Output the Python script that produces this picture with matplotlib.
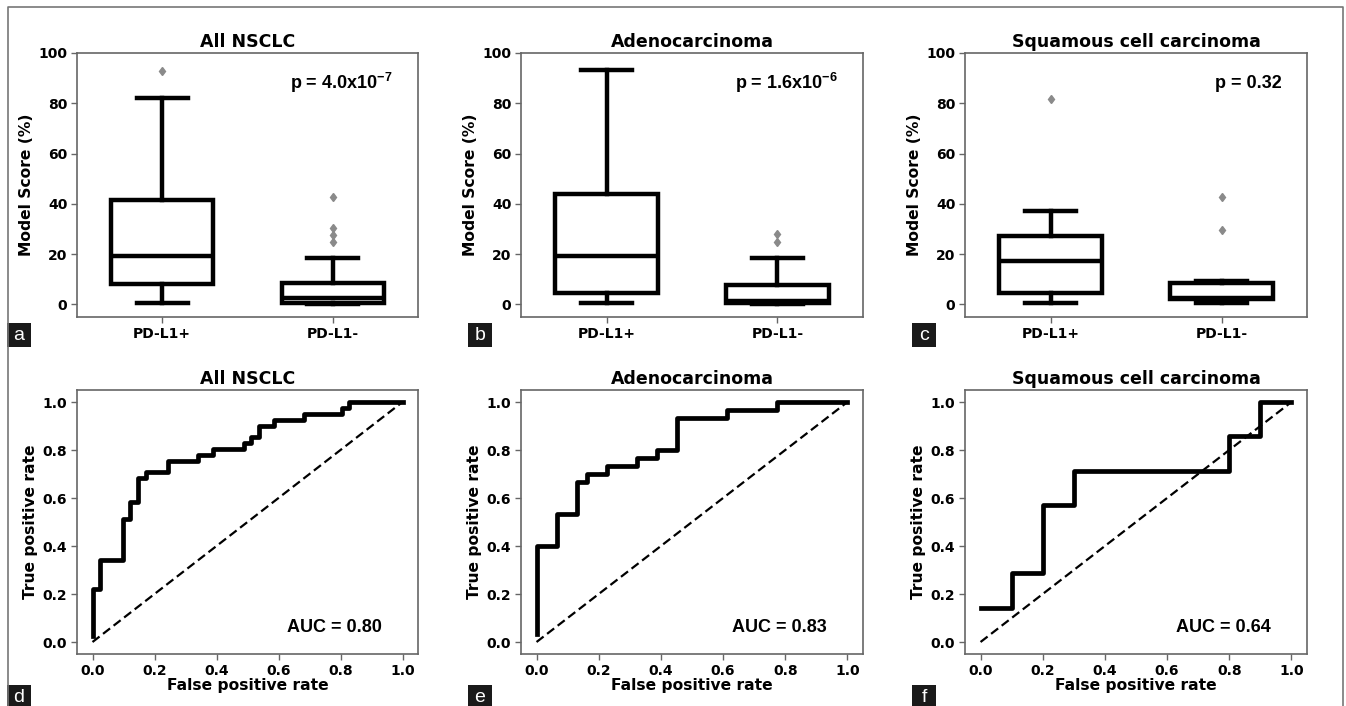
import matplotlib
matplotlib.use('Agg')
import matplotlib.pyplot as plt
from matplotlib.patches import Rectangle
from matplotlib.lines import Line2D

# box plot summaries (model score %)
groups = ['PD-L1+', 'PD-L1-']
box_titles = ['All NSCLC', 'Adenocarcinoma', 'Squamous cell carcinoma']
p_labels = ['p = 4.0x10$^{\\mathregular{-7}}$', 'p = 1.6x10$^{\\mathregular{-6}}$', 'p = 0.32']

nsclc_pos = dict(whislo=0.4, q1=8.3, med=19.2, q3=41.5, whishi=82.0, fliers=[92.8])
nsclc_neg = dict(whislo=0.0, q1=0.4, med=2.4, q3=8.6, whishi=18.5, fliers=[25.0, 27.8, 30.4, 42.8])
adeno_pos = dict(whislo=0.4, q1=4.4, med=19.2, q3=44.0, whishi=93.1, fliers=[])
adeno_neg = dict(whislo=0.0, q1=0.4, med=1.5, q3=7.7, whishi=18.4, fliers=[25.0, 28.0])
squam_pos = dict(whislo=0.4, q1=4.6, med=17.2, q3=27.2, whishi=37.1, fliers=[81.7])
squam_neg = dict(whislo=0.4, q1=2.0, med=2.6, q3=8.6, whishi=9.3, fliers=[29.8, 42.8])

# ROC curves
roc_titles = box_titles
auc_labels = ['AUC = 0.80', 'AUC = 0.83', 'AUC = 0.64']

nsclc_fpr = [0, 0, 0.024, 0.024, 0.098, 0.098, 0.122, 0.122, 0.146, 0.146, 0.171, 0.171,
             0.244, 0.244, 0.341, 0.341, 0.390, 0.390, 0.488, 0.488, 0.512, 0.512,
             0.537, 0.537, 0.585, 0.585, 0.683, 0.683, 0.805, 0.805, 0.829, 0.829, 1.0]
nsclc_tpr = [0.024, 0.220, 0.220, 0.341, 0.341, 0.512, 0.512, 0.585, 0.585, 0.683, 0.683, 0.707,
             0.707, 0.756, 0.756, 0.780, 0.780, 0.805, 0.805, 0.829, 0.829, 0.854,
             0.854, 0.902, 0.902, 0.927, 0.927, 0.951, 0.951, 0.976, 0.976, 1.0, 1.0]

adeno_fpr = [0, 0, 0.065, 0.065, 0.129, 0.129, 0.161, 0.161, 0.226, 0.226, 0.323, 0.323,
             0.387, 0.387, 0.452, 0.452, 0.613, 0.613, 0.774, 0.774, 1.0]
adeno_tpr = [0.033, 0.400, 0.400, 0.533, 0.533, 0.667, 0.667, 0.700, 0.700, 0.733, 0.733, 0.767,
             0.767, 0.800, 0.800, 0.933, 0.933, 0.967, 0.967, 1.0, 1.0]

squam_fpr = [0, 0.1, 0.1, 0.2, 0.2, 0.3, 0.3, 0.8, 0.8, 0.9, 0.9, 1.0]
squam_tpr = [0.143, 0.143, 0.286, 0.286, 0.571, 0.571, 0.714, 0.714, 0.857, 0.857, 1.0, 1.0]

box_data = [(nsclc_pos, nsclc_neg), (adeno_pos, adeno_neg), (squam_pos, squam_neg)]
roc_data = [(nsclc_fpr, nsclc_tpr), (adeno_fpr, adeno_tpr), (squam_fpr, squam_tpr)]

W, H = 1346, 706
fig = plt.figure(figsize=(W / 100, H / 100), dpi=100)

spine_col = '#666666'
narrow = ['Liberation Sans Narrow', 'Liberation Sans']


def px_axes(x0, y0, x1, y1):
    # pixel box (top-left origin) -> figure axes
    return fig.add_axes([x0 / W, 1 - y1 / H, (x1 - x0) / W, (y1 - y0) / H])


def style(ax):
    for s in ax.spines.values():
        s.set_color(spine_col)
        s.set_linewidth(1.2)
    ax.tick_params(colors=spine_col, labelcolor='black', length=4, width=1, pad=3)
    for lab in ax.get_xticklabels() + ax.get_yticklabels():
        lab.set_fontweight('bold')
        lab.set_fontsize(10)


cols = [(77, 418), (521, 863), (965, 1307)]
label_x = [7, 468, 912]

for i in range(3):
    # top row: box plots
    ax = px_axes(cols[i][0], 53, cols[i][1], 317)
    pos, neg = box_data[i]
    stats = [dict(pos, label=groups[0]), dict(neg, label=groups[1])]
    lp = dict(color='black', linewidth=3.2)
    ax.bxp(stats, positions=[1, 2], widths=0.6, patch_artist=True,
           boxprops=dict(facecolor='white', edgecolor='black', linewidth=3.2),
           whiskerprops=lp, capprops=lp, medianprops=lp,
           flierprops=dict(marker='d', markerfacecolor='#8a8a8a', markeredgecolor='#8a8a8a',
                           markersize=4.5))
    ax.set_xlim(0.5, 2.5)
    ax.set_ylim(-5, 100)
    ax.set_yticks([0, 20, 40, 60, 80, 100])
    ax.set_ylabel('Model Score (%)', fontsize=11.2, fontweight='bold', labelpad=3)
    ax.set_title(box_titles[i], fontsize=12.5, fontweight='bold', pad=4)
    style(ax)
    ax.text(0.925, 0.885, p_labels[i], transform=ax.transAxes, ha='right', va='center',
            fontsize=13, fontweight='bold', family=narrow)

    # bottom row: ROC curves
    ax2 = px_axes(cols[i][0], 390, cols[i][1], 654)
    fpr, tpr = roc_data[i]
    ax2.plot([0, 1], [0, 1], color='black', linestyle='--', linewidth=1.6, dashes=(4, 2))
    ax2.plot(fpr, tpr, color='black', linewidth=3.4)
    ax2.set_xlim(-0.05, 1.05)
    ax2.set_ylim(-0.05, 1.05)
    ax2.set_xticks([0, 0.2, 0.4, 0.6, 0.8, 1.0])
    ax2.set_yticks([0, 0.2, 0.4, 0.6, 0.8, 1.0])
    ax2.set_xlabel('False positive rate', fontsize=11.2, fontweight='bold', labelpad=0)
    ax2.set_ylabel('True positive rate', fontsize=11.2, fontweight='bold', labelpad=3)
    ax2.set_title(roc_titles[i], fontsize=12.5, fontweight='bold', pad=4)
    style(ax2)
    ax2.text(0.895, 0.10, auc_labels[i], transform=ax2.transAxes, ha='right', va='center',
             fontsize=13, fontweight='bold', family=narrow)

# panel letters in black boxes
letters = [['a', 'b', 'c'], ['d', 'e', 'f']]
letter_y = [323, 685]
for r in range(2):
    for c in range(3):
        x0, y0 = label_x[c], letter_y[r]
        fig.patches.append(Rectangle((x0 / W, 1 - (y0 + 24) / H), 24 / W, 24 / H,
                                     transform=fig.transFigure, facecolor='#1a1a1a',
                                     edgecolor='none'))
        fig.text((x0 + 12) / W, 1 - (y0 + 13) / H, letters[r][c], color='white',
                 fontsize=14, ha='center', va='center', family='Liberation Sans')

# outer frame (left, top, right)
fx0, fy0, fx1 = 8 / W, 1 - 7 / H, 1343 / W
fig.lines.append(Line2D([fx0, fx0, fx1, fx1], [0, fy0, fy0, 0], transform=fig.transFigure,
                        color='#777777', linewidth=1.2))

fig.savefig('out.png', dpi=100)
